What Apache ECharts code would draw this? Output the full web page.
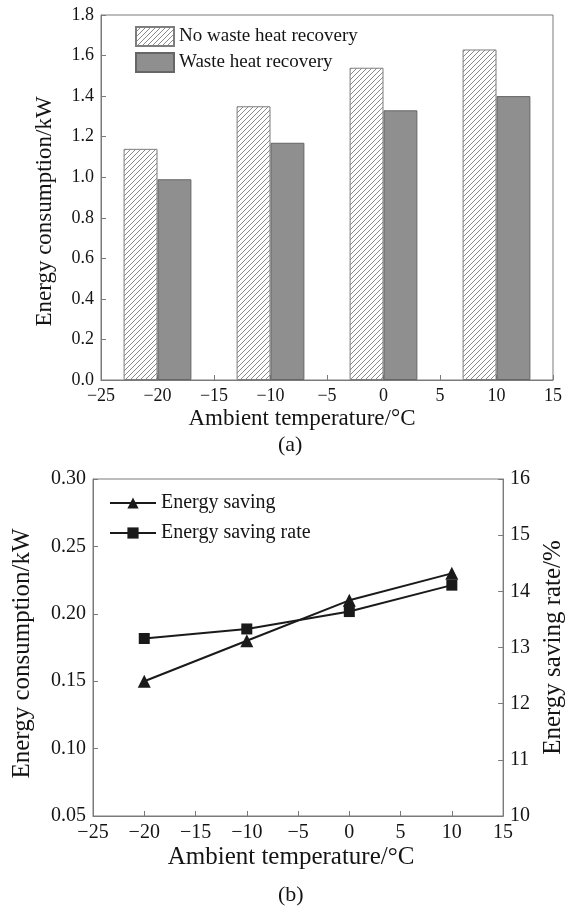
<!DOCTYPE html>
<html>
<head>
<meta charset="utf-8">
<script src="https://cdn.jsdelivr.net/npm/echarts@6/dist/echarts.min.js"></script>
<style>
  html, body { margin: 0; padding: 0; background: #fff; }
  #chart { width: 574px; height: 908px; }
</style>
</head>
<body>
<div id="chart"></div>
<script>
// Ambient temperatures (°C) at which the system was tested
const temps = [-20, -10, 0, 10];
// Panel (a): energy consumption, kW
const noRecovery = [1.14, 1.35, 1.54, 1.63];
const withRecovery = [0.99, 1.17, 1.33, 1.40];
// Panel (b): energy saved (kW) and saving rate (%)
const energySaving = [0.15, 0.18, 0.21, 0.23];
const savingRate = [13.16, 13.33, 13.64, 14.11];

const FONT = '"Liberation Serif", "Times New Roman", serif';
const TXT = '#141414';
const AXIS = '#7a7a7a';

// Diagonal "////" hatch used for the bars without heat recovery
function hatchPattern() {
  const s = 5;
  const c = document.createElement('canvas');
  c.width = s; c.height = s;
  const g = c.getContext('2d');
  g.fillStyle = '#ffffff';
  g.fillRect(0, 0, s, s);
  g.strokeStyle = '#8a8a8a';
  g.lineWidth = 1;
  g.beginPath();
  g.moveTo(0, s); g.lineTo(s, 0);
  g.moveTo(-1, 1); g.lineTo(1, -1);
  g.moveTo(s - 1, s + 1); g.lineTo(s + 1, s - 1);
  g.stroke();
  return c;
}

const minus = v => (v < 0 ? '\u2212' + Math.abs(v) : String(v));
const pairs = ys => temps.map((t, i) => [t, ys[i]]);

function xAxisCfg(gridIndex, fontSize, nameSize, nameGap, namePad) {
  return {
    type: 'value', gridIndex, min: -25, max: 15, interval: 5,
    name: 'Ambient temperature/°C', nameLocation: 'middle', nameGap,
    nameTextStyle: { fontFamily: FONT, fontSize: nameSize, color: TXT, padding: namePad },
    axisLine: { show: true, onZero: false, lineStyle: { color: AXIS, width: 1 } },
    axisTick: { show: true, inside: true, length: 5, lineStyle: { color: AXIS } },
    axisLabel: { fontFamily: FONT, fontSize, color: TXT, margin: 7, formatter: minus },
    splitLine: { show: false }
  };
}

function yAxisCfg(extra, labelSize, nameSize, nameGap, namePad, fmt) {
  return Object.assign({
    type: 'value', nameLocation: 'middle', nameGap,
    nameTextStyle: { fontFamily: FONT, fontSize: nameSize, color: TXT, padding: namePad },
    axisLine: { show: true, onZero: false, lineStyle: { color: AXIS } },
    axisTick: { show: true, inside: true, length: 5, lineStyle: { color: AXIS } },
    axisLabel: { fontFamily: FONT, fontSize: labelSize, color: TXT, margin: 7, formatter: fmt },
    splitLine: { show: false }
  }, extra);
}

const chart = echarts.init(document.getElementById('chart'), null, { renderer: 'canvas' });

chart.setOption({
  animation: false,
  backgroundColor: '#ffffff',
  grid: [
    { left: 101, right: 21, top: 15, height: 365, show: true, borderColor: AXIS, borderWidth: 1 },
    { left: 93, right: 61, top: 479, height: 337, show: true, borderColor: AXIS, borderWidth: 1 }
  ],
  legend: [
    {
      left: 135, top: 26, orient: 'vertical', padding: 0, icon: 'rect',
      itemWidth: 38, itemHeight: 19, itemGap: 5,
      data: ['No waste heat recovery', 'Waste heat recovery'],
      textStyle: { fontFamily: FONT, fontSize: 19, color: TXT }
    },
    {
      left: 109, top: 493, orient: 'vertical', padding: 0,
      itemWidth: 46, itemHeight: 14, itemGap: 10,
      data: ['Energy saving', 'Energy saving rate'],
      textStyle: { fontFamily: FONT, fontSize: 20, color: TXT }
    }
  ],
  xAxis: [
    xAxisCfg(0, 18, 23, 27, [0, 50, 0, 0]),
    xAxisCfg(1, 20, 25, 29, [0, 14, 0, 0])
  ],
  yAxis: [
    yAxisCfg({ gridIndex: 0, min: 0, max: 1.8, interval: 0.2, name: 'Energy consumption/kW' },
      18, 23, 45, [0, 28, 0, 0], v => v.toFixed(1)),
    yAxisCfg({ gridIndex: 1, min: 0.05, max: 0.30, interval: 0.05, name: 'Energy consumption/kW' },
      20, 25, 58, [0, 12, 0, 0], v => v.toFixed(2)),
    yAxisCfg({ gridIndex: 1, position: 'right', min: 10, max: 16, interval: 1, name: 'Energy saving rate/%' },
      20, 25, 30, [0, 0, 0, 0], v => String(v))
  ],
  series: [
    {
      name: 'No waste heat recovery', type: 'bar', xAxisIndex: 0, yAxisIndex: 0,
      data: pairs(noRecovery), barGap: '0%', barCategoryGap: '40%',
      itemStyle: { color: { image: hatchPattern(), repeat: 'repeat' }, borderColor: '#7d7d7d', borderWidth: 1 }
    },
    {
      name: 'Waste heat recovery', type: 'bar', xAxisIndex: 0, yAxisIndex: 0,
      data: pairs(withRecovery), barGap: '0%', barCategoryGap: '40%',
      itemStyle: { color: '#8f8f8f', borderColor: '#666666', borderWidth: 1 }
    },
    {
      name: 'Energy saving', type: 'line', xAxisIndex: 1, yAxisIndex: 1,
      data: pairs(energySaving), symbol: 'triangle', symbolSize: 13,
      lineStyle: { color: '#1a1a1a', width: 2 }, itemStyle: { color: '#1a1a1a' }
    },
    {
      name: 'Energy saving rate', type: 'line', xAxisIndex: 1, yAxisIndex: 2,
      data: pairs(savingRate), symbol: 'rect', symbolSize: 11,
      lineStyle: { color: '#1a1a1a', width: 2 }, itemStyle: { color: '#1a1a1a' }
    }
  ],
  graphic: [
    { type: 'text', left: 278, top: 434, style: { text: '(a)', font: '22px ' + FONT, fill: TXT } },
    { type: 'text', left: 278, top: 884, style: { text: '(b)', font: '22px ' + FONT, fill: TXT } }
  ]
});
</script>
</body>
</html>
